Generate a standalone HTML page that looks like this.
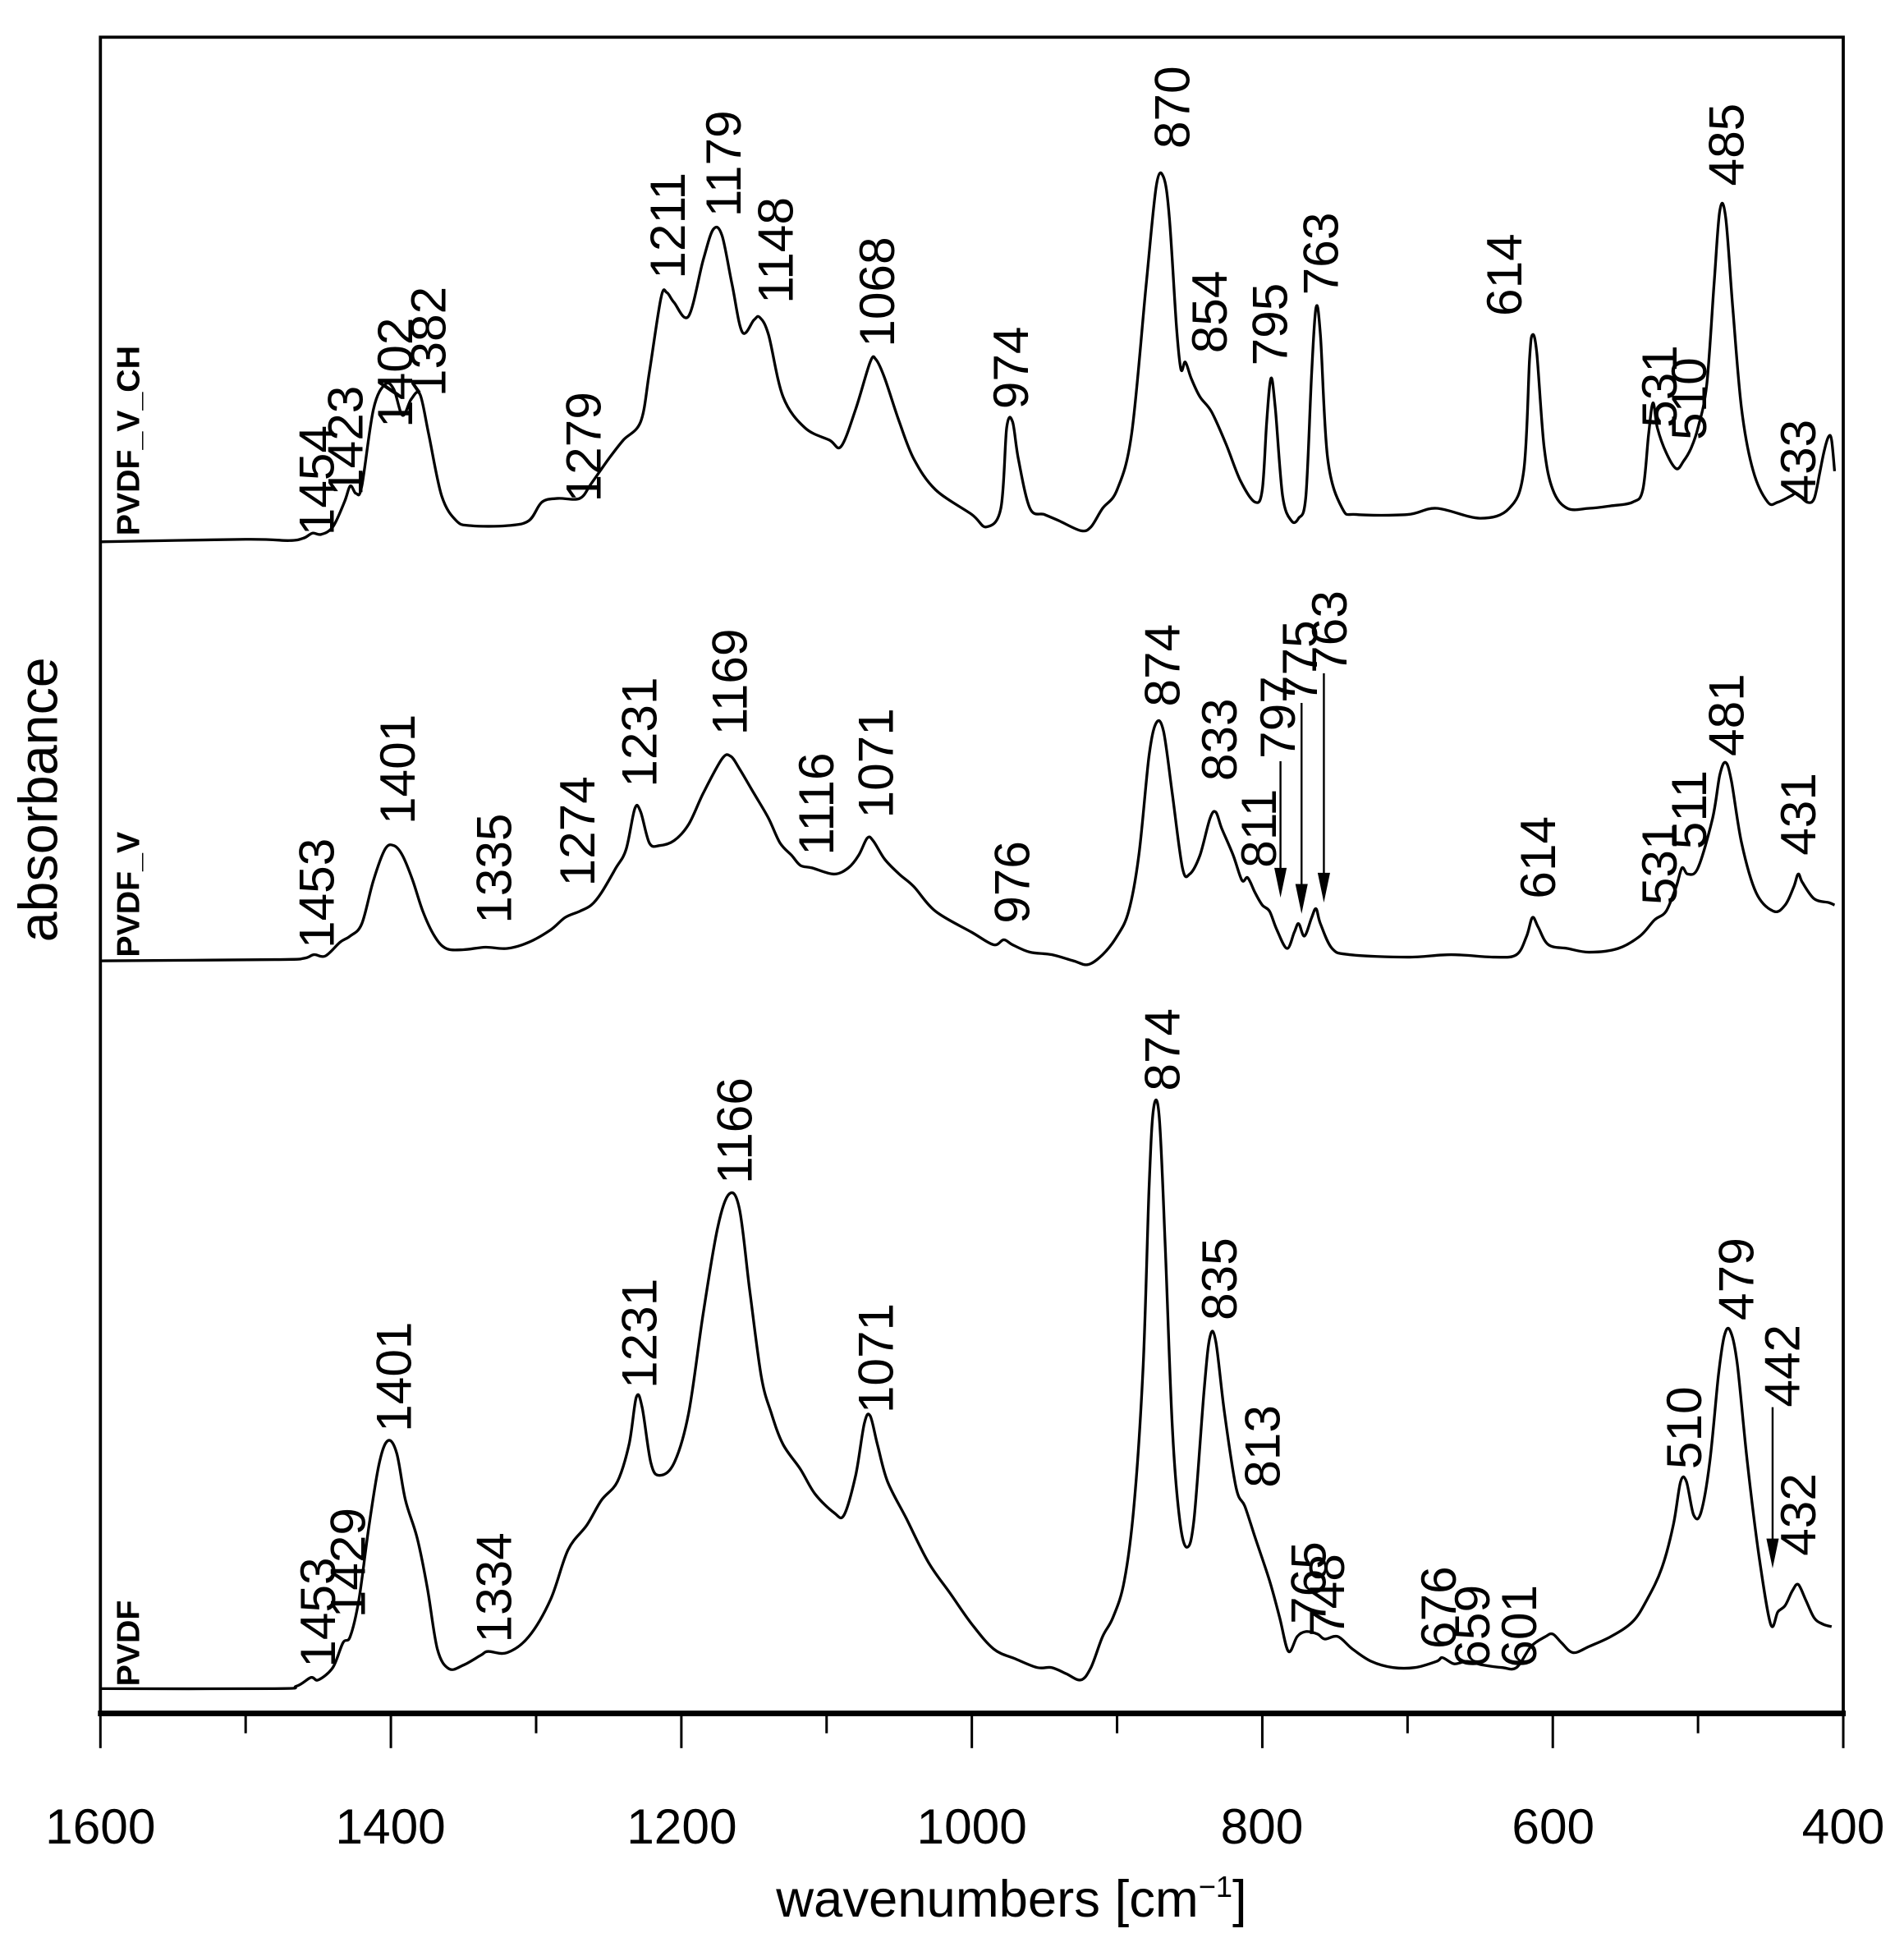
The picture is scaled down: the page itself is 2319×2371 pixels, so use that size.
<!DOCTYPE html>
<html><head><meta charset="utf-8">
<style>
html,body{margin:0;padding:0;background:#fff;}
svg{display:block;}
text{font-family:"Liberation Sans",Arial,sans-serif;fill:#000;}
.pk{font-size:40px;}
.sm{font-size:26px;font-weight:bold;}
.tk{font-size:40px;}
</style></head>
<body>
<svg id="s" width="2319" height="2371" viewBox="0 0 1536 1570.4" preserveAspectRatio="none" xmlns="http://www.w3.org/2000/svg">
<rect x="0" y="0" width="1536" height="1571" fill="#fff"/>
<g fill="none" stroke="#000">
<rect x="81" y="30" width="1406" height="1352" stroke-width="2.5"/>
<line x1="79" y1="1382" x2="1489" y2="1382" stroke-width="4.5"/>
</g>
<g id="ticks" stroke="#000" stroke-width="2"></g>
<g id="curves" fill="none" stroke="#000" stroke-width="2.2" stroke-linejoin="round"></g>
<g id="labels"></g>
<g id="arrows" stroke="#000" stroke-width="1.6"></g>
<g class="tk" text-anchor="middle">
<text x="81" y="1487">1600</text>
<text x="315" y="1487">1400</text>
<text x="550" y="1487">1200</text>
<text x="784" y="1487">1000</text>
<text x="1018" y="1487">800</text>
<text x="1253" y="1487">600</text>
<text x="1487" y="1487">400</text>
</g>
<text x="816" y="1546" text-anchor="middle" style="font-size:42px">wavenumbers [cm<tspan dy="-16" style="font-size:24px">−1</tspan><tspan dy="16">]</tspan></text>
<text transform="translate(46,645) rotate(-90)" text-anchor="middle" style="font-size:44px">absorbance</text>
</svg>
<script>
var NS="http://www.w3.org/2000/svg";
function X(w){return 81+(1600-w)*1.17167;}
function el(t,a,p){var e=document.createElementNS(NS,t);for(var k in a)e.setAttribute(k,a[k]);p.appendChild(e);return e;}
var tg=document.getElementById('ticks');
for(var w=1600;w>=400;w-=100){var maj=(w%200==0);el('line',{x1:X(w),y1:1382,x2:X(w),y2:maj?1410:1398},tg);}
function path(d){
 var p=[];for(var i=0;i<d.length;i+=2)p.push([X(d[i]),d[i+1]]);
 var s="M"+p[0][0].toFixed(1)+","+p[0][1];
 for(var i=0;i<p.length-1;i++){
  var p0=p[i-1]||p[i],p1=p[i],p2=p[i+1],p3=p[i+2]||p2;
  var t=0.5/3;
  var c1x=p1[0]+(p2[0]-p0[0])*t,c1y=p1[1]+(p2[1]-p0[1])*t;
  var c2x=p2[0]-(p3[0]-p1[0])*t,c2y=p2[1]-(p3[1]-p1[1])*t;
  s+="C"+c1x.toFixed(1)+","+c1y.toFixed(1)+" "+c2x.toFixed(1)+","+c2y.toFixed(1)+" "+p2[0].toFixed(1)+","+p2[1];
 }
 el('path',{d:s},document.getElementById('curves'));
}
path([1600,437,1500,435,1470,436,1460,434,1454,430,1448,431,1440,425,1432,405,1428,392,1424,398,1420,392,1412,330,1404,310,1398,314,1392,335,1386,322,1380,318,1374,350,1365,400,1355,420,1345,424,1320,424,1305,420,1296,405,1285,402,1270,402,1262,390,1250,370,1240,355,1228,340,1222,300,1214,240,1210,236,1205,244,1195,255,1185,210,1178,185,1172,190,1165,230,1158,268,1150,258,1146,256,1140,270,1130,320,1115,345,1098,355,1090,360,1080,330,1070,292,1066,290,1060,305,1050,340,1040,370,1025,395,1000,415,990,425,980,410,976,345,972,340,968,370,960,410,950,415,940,420,925,428,918,425,910,410,900,395,890,350,880,230,873,150,868,143,864,175,859,265,856,298,853,292,849,305,843,320,835,332,825,358,815,388,805,405,800,395,797,340,794,305,791,330,786,400,780,420,775,418,770,400,766,300,763,248,760,270,755,370,745,410,735,415,700,415,680,410,650,418,630,410,620,380,616,290,614,270,611,285,606,360,600,395,590,410,575,410,560,408,545,405,538,395,534,350,531,325,528,345,522,365,515,378,510,372,505,362,500,345,494,310,489,230,485,170,481,175,476,250,470,330,462,380,452,405,445,405,436,400,432,398,425,405,420,402,416,380,413,363,410,352,408,355,406,380]);
path([1600,775,1480,774,1460,773,1453,770,1445,771,1435,760,1428,755,1420,745,1412,710,1404,685,1398,682,1392,690,1385,710,1378,735,1370,755,1362,765,1350,766,1335,764,1320,765,1305,760,1290,750,1280,740,1270,735,1262,730,1255,720,1245,700,1238,685,1232,652,1228,655,1222,680,1215,682,1205,678,1195,665,1185,640,1172,612,1166,610,1160,620,1150,640,1140,660,1132,680,1124,690,1118,698,1110,700,1095,705,1085,700,1078,690,1072,676,1068,678,1060,693,1050,705,1040,715,1025,735,1000,752,985,762,978,758,972,762,960,768,945,770,930,775,920,778,910,770,900,755,892,735,885,690,878,610,873,583,868,590,862,640,855,700,850,705,843,690,836,660,832,655,828,668,820,690,814,710,810,708,805,720,800,730,795,735,790,750,783,765,778,752,775,745,771,755,766,740,763,733,760,745,752,765,740,770,700,772,670,770,640,772,625,770,618,755,614,740,610,748,603,762,590,765,575,768,555,765,540,755,530,742,522,735,515,715,511,700,507,705,500,700,490,660,485,625,481,615,477,630,470,680,460,720,448,735,440,730,434,715,431,705,428,712,420,725,410,728,406,730]);
path([1600,1362,1480,1362,1465,1360,1455,1353,1450,1355,1440,1345,1433,1325,1428,1320,1422,1290,1415,1230,1408,1180,1402,1162,1396,1172,1390,1210,1382,1240,1375,1280,1368,1330,1360,1346,1350,1343,1338,1335,1333,1332,1320,1333,1305,1320,1290,1290,1278,1250,1265,1230,1255,1210,1244,1195,1236,1165,1231,1127,1227,1135,1221,1180,1215,1190,1205,1180,1195,1140,1185,1060,1175,990,1167,963,1160,975,1153,1040,1145,1110,1138,1140,1130,1165,1118,1185,1108,1205,1095,1220,1088,1222,1080,1190,1074,1148,1070,1142,1065,1165,1058,1195,1045,1225,1030,1260,1015,1285,1000,1310,985,1330,970,1338,955,1345,945,1345,935,1350,925,1355,918,1345,910,1320,903,1305,895,1275,888,1210,882,1100,878,960,875,895,871,900,867,1000,862,1150,857,1225,852,1248,847,1225,840,1120,836,1078,832,1082,826,1140,818,1200,812,1215,805,1240,795,1275,788,1305,782,1332,776,1320,770,1316,762,1318,757,1322,748,1320,738,1330,725,1340,710,1345,695,1345,680,1340,676,1337,668,1342,659,1340,648,1343,635,1345,625,1345,615,1328,605,1320,600,1318,594,1325,586,1333,575,1328,560,1320,545,1308,535,1290,525,1265,517,1230,512,1195,508,1195,503,1222,498,1220,492,1180,486,1110,482,1078,478,1073,473,1100,466,1180,458,1255,450,1310,445,1300,440,1295,435,1283,431,1278,426,1290,420,1305,414,1310,408,1312]);
var lg=document.getElementById('labels');
function L(t,cx,by,cls){var fs=cls=='sm'?26:40;var e=el('text',{'class':cls||'pk',transform:'translate('+(cx+fs*0.36)+','+by+') rotate(-90)'},lg);e.textContent=t;}
[["1454",255,432],["1423",278,400],["1402",318,345],["1382",345,320],["1279",470,405],["1211",538,225],["1179",583,175],["1148",625,245],["1068",707,280],["974",815,330],["870",945,120],["854",975,285],["795",1024,295],["763",1065,238],["614",1213,255],["531",1338,345],["510",1362,355],["485",1392,150],["433",1450,405],
["1453",255,765],["1401",320,665],["1335",398,745],["1274",465,715],["1231",515,635],["1169",588,593],["1116",658,690],["1071",706,660],["976",816,745],["874",937,570],["833",983,630],["811",1015,700],["797",1030,612],["775",1048,567],["763",1072,543],["614",1240,725],["531",1338,730],["511",1362,685],["481",1392,610],["431",1450,690],
["1453",256,1345],["1429",280,1305],["1401",317,1155],["1334",398,1325],["1231",515,1120],["1166",592,955],["1071",706,1140],["874",937,880],["835",983,1065],["813",1018,1200],["765",1055,1310],["748",1070,1320],["676",1160,1330],["659",1187,1345],["601",1225,1345],["510",1358,1185],["479",1400,1065],["442",1437,1135],["432",1450,1255]
].forEach(function(a){L(a[0],a[1],a[2]);});
L("PVDF_V_CH",103,432,'sm');L("PVDF_V",103,772,'sm');L("PVDF",103,1360,'sm');
var ag=document.getElementById('arrows');
function A(x,y1,y2){el('line',{x1:x,y1:y1,x2:x,y2:y2-20},ag);el('polygon',{points:(x-5)+','+(y2-24)+' '+(x+5)+','+(y2-24)+' '+x+','+y2,fill:'#000',stroke:'none'},ag);}
A(1033,614,724);A(1050,567,737);A(1068,543,728);A(1430,1135,1265);
</script>
</body></html>
